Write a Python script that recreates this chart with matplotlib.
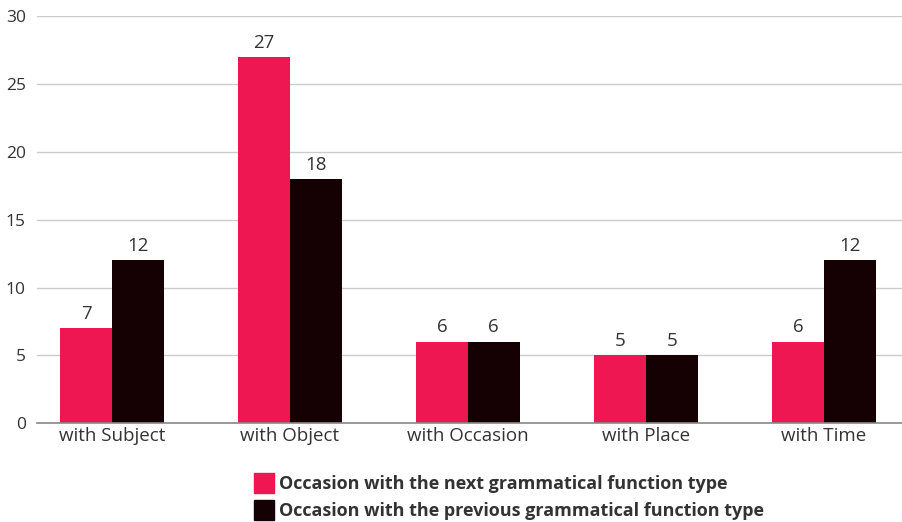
import matplotlib
matplotlib.use("Agg")
import matplotlib.pyplot as plt
import numpy as np
from matplotlib.lines import Line2D

categories = ["with Subject", "with Object", "with Occasion", "with Place", "with Time"]
next_type = [7, 27, 6, 5, 6]
previous_type = [12, 18, 6, 5, 12]
series_names = ["Occasion with the next grammatical function type",
                "Occasion with the previous grammatical function type"]
y_ticks = [0, 5, 10, 15, 20, 25, 30]

RED = "#ee1751"
DARK = "#150004"
TEXT = "#333333"

plt.rcParams["font.family"] = ["Open Sans", "DejaVu Sans"]

fig = plt.figure(figsize=(9.02, 5.22), dpi=100)
ax = fig.add_axes([37 / 902, 99 / 522, 865 / 902, 406.5 / 522])

x = np.arange(len(categories))
w = 0.29
b1 = ax.bar(x - w / 2, next_type, width=w, color=RED, zorder=3)
b2 = ax.bar(x + w / 2, previous_type, width=w, color=DARK, zorder=3)

for bars, vals in ((b1, next_type), (b2, previous_type)):
    for rect, v in zip(bars, vals):
        ax.annotate(f"{v}", (rect.get_x() + rect.get_width() / 2, v),
                    xytext=(0, 4), textcoords="offset points",
                    ha="center", va="bottom", fontsize=13.5, color=TEXT)

ax.set_xlim(-0.421, 4.438)
ax.set_ylim(0, 30)
ax.set_yticks(y_ticks)
ax.set_yticklabels([str(t) for t in y_ticks])
ax.set_xticks(x)
ax.set_xticklabels(categories)
ax.tick_params(axis="both", length=0, colors=TEXT)
ax.tick_params(axis="y", pad=8, labelsize=12.5)
ax.tick_params(axis="x", pad=3, labelsize=13.5)
ax.grid(axis="y", color="#cccccc", linewidth=1, zorder=0)
for s in ("top", "right", "left"):
    ax.spines[s].set_visible(False)
ax.spines["bottom"].set_color("#888888")
ax.spines["bottom"].set_linewidth(1.2)
ax.spines["bottom"].set_zorder(4)

handles = [Line2D([], [], marker="s", linestyle="none", markersize=14,
                  markerfacecolor=c, markeredgecolor=c) for c in (RED, DARK)]
fig.legend(handles, series_names, loc="upper left",
           bbox_to_anchor=(247 / 902, 1 - 468 / 522), frameon=False,
           prop={"weight": "bold", "size": 13.0}, labelcolor=TEXT,
           handletextpad=0.25, labelspacing=0.5, borderaxespad=0,
           handlelength=1.1)

fig.savefig("out.png", dpi=100)
